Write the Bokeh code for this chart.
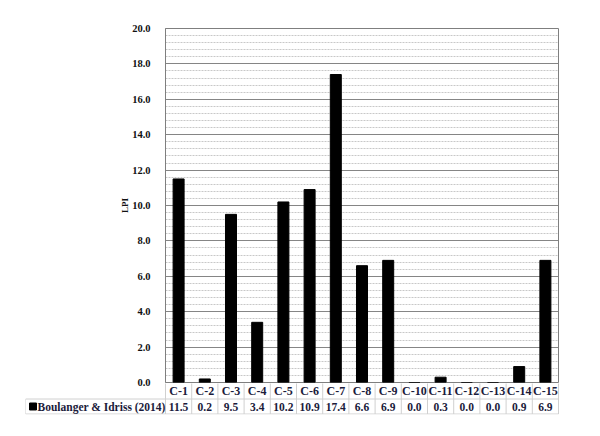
from bokeh.plotting import figure
from bokeh.layouts import column
from bokeh.models import Range1d, SingleIntervalTicker, NumeralTickFormatter
from bokeh.core.properties import value
from bokeh.embed import file_html
from bokeh.resources import INLINE

# ---- data ----
categories = ["C-1", "C-2", "C-3", "C-4", "C-5", "C-6", "C-7", "C-8",
              "C-9", "C-10", "C-11", "C-12", "C-13", "C-14", "C-15"]
lpi_values = [11.5, 0.2, 9.5, 3.4, 10.2, 10.9, 17.4, 6.6,
              6.9, 0.0, 0.3, 0.0, 0.0, 0.9, 6.9]
series_name = "Boulanger & Idriss (2014)"
y_label = "LPI"
y_max = 20

FONT = "Liberation Serif"
TABLE_COLOR = "#1b1b3b"
LINE_GREY = "#d0d0d0"

n = len(categories)
centers = [i + 0.5 for i in range(n)]
bounds = [float(i) for i in range(n + 1)]

# frame geometry (pixels)
FR_LEFT, FR_RIGHT, FR_TOP, FR_BOTTOM = 165, 558, 28, 382
FIG_W = 592
ppu = (FR_RIGHT - FR_LEFT) / n          # pixels per category
TBL_LEFT = 25
legend_w = (FR_LEFT - TBL_LEFT) / ppu    # legend cell width in category units

# ---------------- main chart ----------------
p = figure(width=FIG_W, height=FR_BOTTOM + 8, output_backend="svg",
           toolbar_location=None,
           x_range=Range1d(0, n), y_range=Range1d(0, y_max),
           min_border_left=FR_LEFT, min_border_right=FIG_W - FR_RIGHT,
           min_border_top=FR_TOP, min_border_bottom=8)
p.outline_line_color = "#7f7f7f"
p.xaxis.visible = False

p.vbar(x=centers, top=lpi_values, width=0.42, fill_color="black", line_color="black")

yax = p.yaxis[0]
yax.ticker = SingleIntervalTicker(interval=2, num_minor_ticks=5)
yax.formatter = NumeralTickFormatter(format="0.0")
yax.axis_label = y_label
yax.axis_label_text_font = FONT
yax.axis_label_text_font_style = "bold"
yax.axis_label_text_font_size = "9px"
yax.axis_label_text_color = "#111111"
yax.axis_label_standoff = -1
yax.major_label_text_font = FONT
yax.major_label_text_font_style = "bold"
yax.major_label_text_font_size = "10.5px"
yax.major_label_text_color = "#111111"
yax.major_label_standoff = 9
yax.major_tick_line_color = None
yax.minor_tick_line_color = None
yax.axis_line_color = "#7f7f7f"

p.ygrid.ticker = yax.ticker
p.ygrid.grid_line_color = "#858585"
p.ygrid.minor_grid_line_color = "#c8c8c8"
p.ygrid.minor_grid_line_dash = "2 1"
p.xgrid.visible = False

# ---------------- data table ----------------
ROW1_H, ROW2_H = 16, 15
tbl_h = ROW1_H + ROW2_H + 1
t = figure(width=FIG_W, height=tbl_h + 1, output_backend="svg", toolbar_location=None,
           x_range=Range1d(-legend_w, n + 1 / ppu), y_range=Range1d(-0.5, tbl_h - 0.5),
           min_border_left=TBL_LEFT, min_border_right=FIG_W - FR_RIGHT - 1,
           min_border_top=0, min_border_bottom=1,
           x_axis_location=None, y_axis_location=None)
t.styles = {"margin-top": "-8px"}
t.outline_line_color = None
t.background_fill_alpha = 0
t.border_fill_alpha = 0
t.xgrid.visible = False
t.ygrid.visible = False

# do not let the column line up the two frames
for fig in (p, t):
    if "frame_align" in fig.properties():
        fig.frame_align = False

y_top = ROW1_H + ROW2_H - 0.5
y_mid = ROW2_H
y_bot = 0

# vertical separators at category boundaries
t.segment(x0=bounds, y0=[y_bot] * len(bounds), x1=bounds, y1=[y_top] * len(bounds),
          line_color=LINE_GREY, line_width=1)
# legend cell left edge, row separator and bottom edge
t.segment(x0=[-legend_w, -legend_w, -legend_w], y0=[y_bot, y_mid, y_bot],
          x1=[-legend_w, n, n], y1=[y_mid, y_mid, y_bot],
          line_color=LINE_GREY, line_width=1)

# row 1: category names
t.text(x=centers, y=[(y_top + y_mid) / 2] * n, text=categories,
       text_align="center", text_baseline="middle",
       text_font=value(FONT), text_font_style="bold", text_font_size="12px",
       text_color=TABLE_COLOR)
# row 2: values
t.text(x=centers, y=[(y_mid + y_bot) / 2] * n, text=[f"{v:.1f}" for v in lpi_values],
       text_align="center", text_baseline="middle",
       text_font=value(FONT), text_font_style="bold", text_font_size="11.5px",
       text_color=TABLE_COLOR)
# legend cell
t.scatter(x=[-legend_w + 7.5 / ppu], y=[(y_mid + y_bot) / 2], marker="square",
          size=7, fill_color="black", line_color="black")
t.text(x=[-legend_w], y=[(y_mid + y_bot) / 2], text=[series_name], x_offset=12,
       text_align="left", text_baseline="middle",
       text_font=value(FONT), text_font_style="bold", text_font_size="11.5px",
       text_color=TABLE_COLOR)

layout = column(p, t, spacing=0)
open("out.html", "w").write(file_html(layout, INLINE))
